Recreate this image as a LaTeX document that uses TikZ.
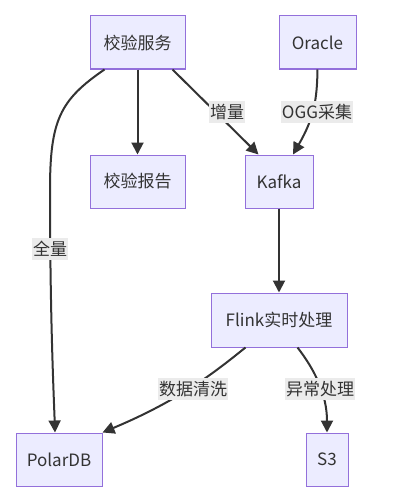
\documentclass[tikz,border=0pt]{standalone}
\usepackage{fontspec}
\setmainfont{Noto Sans CJK SC}
\usetikzlibrary{arrows.meta}
\definecolor{boxfill}{HTML}{ECECFF}
\definecolor{boxline}{HTML}{9370DB}
\definecolor{ink}{HTML}{333333}
\definecolor{lblfill}{HTML}{EBEBEB}
\begin{document}
\begin{tikzpicture}[x=1pt,y=-1pt,>={Triangle[length=12pt,width=12pt]},
    box/.style={draw=boxline,fill=boxfill,line width=1pt,minimum height=53pt,inner sep=0pt,text=ink,font=\fontsize{17}{20}\selectfont},
    lbl/.style={fill=lblfill,inner xsep=1pt,inner ysep=3pt,text=ink,font=\fontsize{17}{20}\selectfont},
    edge/.style={line width=2pt,draw=ink}]
  \useasboundingbox (0,0) rectangle (401,503);
  \node[box,minimum width=95pt] (svc) at (137.5,42.5) {校验服务};
  \node[box,minimum width=77pt] (ora) at (317.5,42.5) {Oracle};
  \node[box,minimum width=95pt] (rep) at (137.5,181.5) {校验报告};
  \node[box,minimum width=68pt] (kafka) at (279,181.5) {Kafka};
  \node[box,minimum width=136pt,minimum height=54pt] (flink) at (279,320) {Flink实时处理};
  \node[box,minimum width=86pt] (polar) at (59,459.5) {PolarDB};
  \node[box,minimum width=42pt] (s3) at (327,459.5) {S3};
  \draw[edge,->] ([xshift=15pt]svc.south west) .. controls (60,100) and (50,120) .. (50,190)
    .. controls (50,320) and (54,400) .. ([xshift=-4pt]polar.north);
  \node[lbl] (lfull) at (50,249) {全量};
  \draw[edge,->] (svc) -- (rep);
  \draw[edge,->] ([xshift=-13pt]svc.south east) -- ([xshift=14pt]kafka.north west);
  \node[lbl] (lincr) at (227,112) {增量};
  \draw[edge,->] (ora.south) .. controls (317,100) and (314,118) .. ([xshift=14pt]kafka.north);
  \node[lbl] (logg) at (317,112) {OGG采集};
  \draw[edge,->] (kafka) -- (flink);
  \draw[edge,->] ([xshift=35pt]flink.south west) .. controls (215,372) and (180,400) .. (polar.north east);
  \node[lbl] (lclean) at (193,389) {数据清洗};
  \draw[edge,->] ([xshift=-50pt]flink.south east) .. controls (315,370) and (327,395) .. (s3.north);
  \node[lbl] (lerr) at (320,389) {异常处理};
\end{tikzpicture}
\end{document}
